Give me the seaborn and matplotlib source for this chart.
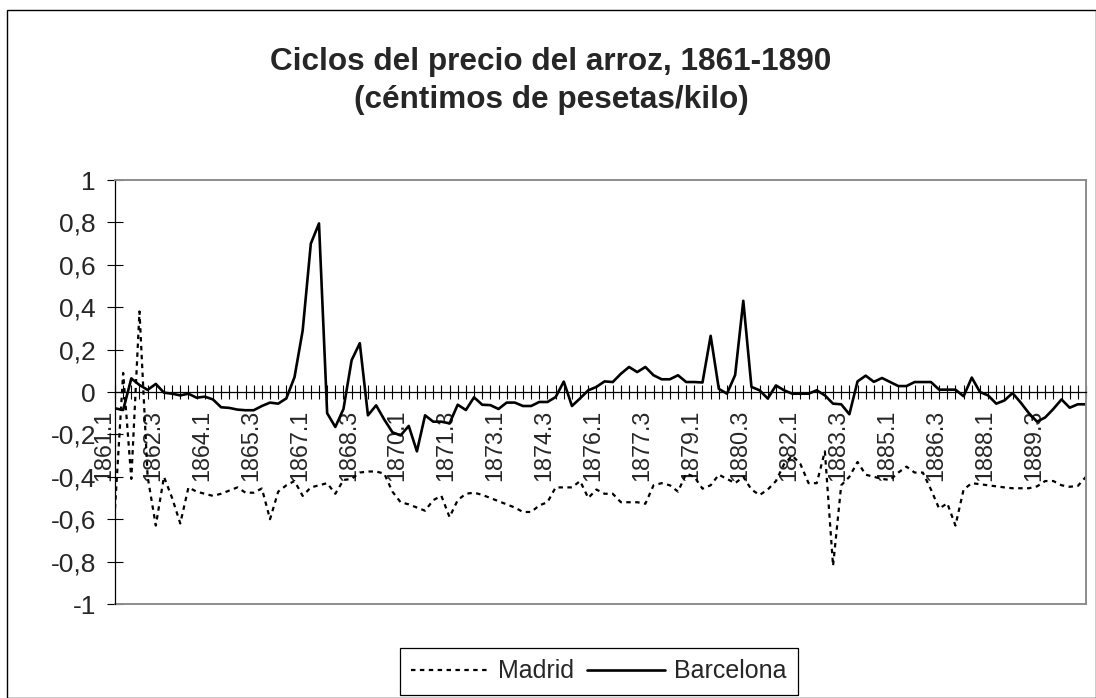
import numpy as np
import pandas as pd
import matplotlib
matplotlib.use("Agg")
import matplotlib.pyplot as plt
import seaborn as sns
from matplotlib.patches import Rectangle

# ======================
# 数据 (trimestres 1861.1 - 1890.4)
# ======================
quarters = [f"{y}.{q}" for y in range(1861, 1891) for q in range(1, 5)]

madrid = [
    -0.55, 0.09, -0.41, 0.38, -0.40, -0.63, -0.40, -0.50, -0.62, -0.45,
    -0.47, -0.48, -0.49, -0.48, -0.465, -0.45, -0.475, -0.475, -0.455, -0.60,
    -0.47, -0.44, -0.42, -0.49, -0.45, -0.44, -0.43, -0.48, -0.415, -0.41,
    -0.38, -0.375, -0.375, -0.385, -0.47, -0.52, -0.53, -0.545, -0.56, -0.51,
    -0.49, -0.59, -0.51, -0.48, -0.475, -0.485, -0.50, -0.515, -0.53, -0.545,
    -0.566, -0.566, -0.535, -0.52, -0.45, -0.45, -0.45, -0.42, -0.50, -0.46,
    -0.48, -0.48, -0.52, -0.52, -0.52, -0.527, -0.44, -0.43, -0.44, -0.47,
    -0.385, -0.40, -0.456, -0.44, -0.39, -0.41, -0.43, -0.40, -0.46, -0.486,
    -0.46, -0.42, -0.34, -0.30, -0.34, -0.43, -0.43, -0.28, -0.82, -0.44,
    -0.40, -0.33, -0.39, -0.40, -0.41, -0.415, -0.38, -0.352, -0.38, -0.38,
    -0.46, -0.55, -0.525, -0.63, -0.46, -0.43, -0.435, -0.44, -0.445, -0.45,
    -0.454, -0.454, -0.454, -0.445, -0.42, -0.42, -0.44, -0.447, -0.443, -0.40,
]

barcelona = [
    -0.077, -0.085, 0.064, 0.033, 0.010, 0.038, -0.003, -0.008, -0.016, -0.008,
    -0.027, -0.022, -0.035, -0.072, -0.075, -0.083, -0.086, -0.086, -0.066, -0.050,
    -0.055, -0.030, 0.070, 0.290, 0.700, 0.795, -0.100, -0.165, -0.080, 0.150,
    0.230, -0.110, -0.063, -0.130, -0.190, -0.205, -0.160, -0.280, -0.110, -0.140,
    -0.140, -0.148, -0.060, -0.085, -0.025, -0.060, -0.062, -0.080, -0.050, -0.050,
    -0.066, -0.066, -0.047, -0.047, -0.024, 0.049, -0.066, -0.030, 0.008, 0.024,
    0.050, 0.047, 0.086, 0.118, 0.094, 0.118, 0.079, 0.060, 0.060, 0.079,
    0.047, 0.047, 0.045, 0.265, 0.015, -0.008, 0.080, 0.430, 0.024, 0.008,
    -0.031, 0.031, 0.008, -0.008, -0.008, -0.008, 0.008, -0.016, -0.055, -0.058,
    -0.105, 0.050, 0.077, 0.048, 0.066, 0.047, 0.028, 0.028, 0.047, 0.047,
    0.047, 0.011, 0.011, 0.011, -0.020, 0.068, 0.000, -0.016, -0.055, -0.040,
    -0.005, -0.050, -0.100, -0.140, -0.120, -0.080, -0.035, -0.074, -0.058, -0.058,
]

y_ticks = [-1, -0.8, -0.6, -0.4, -0.2, 0, 0.2, 0.4, 0.6, 0.8, 1]
y_labels = ["-1", "-0,8", "-0,6", "-0,4", "-0,2", "0", "0,2", "0,4", "0,6", "0,8", "1"]
label_step = 6

df = pd.DataFrame({
    "t": np.arange(len(quarters)),
    "Madrid": madrid,
    "Barcelona": barcelona,
})

# ======================
# 绘图
# ======================
sns.set_style("white")
plt.rcParams["font.family"] = ["Liberation Sans", "DejaVu Sans"]

W, H = 1096, 698
fig = plt.figure(figsize=(W / 100, H / 100), dpi=100)
ax = fig.add_axes([115 / W, 1 - 604 / H, 971 / W, 424 / H])

sns.lineplot(data=df, x="t", y="Madrid", ax=ax, color="black", linewidth=1.6,
             linestyle=(0, (2.0, 2.0)), label="Madrid")
sns.lineplot(data=df, x="t", y="Barcelona", ax=ax, color="black", linewidth=1.9,
             label="Barcelona")

ax.set_xlim(0, len(quarters) - 1)
ax.set_ylim(-1, 1)
ax.set_xlabel("")
ax.set_ylabel("")

# bordes (antes de las marcas: set_position reinicia los ticks)
ax.spines["bottom"].set_position(("data", 0))
ax.spines["bottom"].set_color("black")
ax.spines["bottom"].set_linewidth(0.9)
ax.spines["left"].set_color("black")
ax.spines["left"].set_linewidth(0.9)
for s in ["top", "right"]:
    ax.spines[s].set_color("#8c8c8c")
    ax.spines[s].set_linewidth(1.4)
ax.plot([0, 1], [0, 0], transform=ax.transAxes, color="#8c8c8c", lw=1.4, clip_on=False)

# eje x en y=0, marcas en cada trimestre
ax.set_xticks(df["t"])
ax.set_xticklabels([q if i % label_step == 0 else "" for i, q in enumerate(quarters)])
ax.tick_params(axis="x", direction="inout", length=9.5, width=0.8, color="black",
               labelsize=16.8, pad=8, bottom=True)
plt.setp(ax.get_xticklabels(), rotation=90, rotation_mode="anchor",
         ha="right", va="bottom")

ax.set_yticks(y_ticks)
ax.set_yticklabels(y_labels)
ax.tick_params(axis="y", direction="inout", length=11.5, width=0.8, color="black",
               labelsize=19, pad=8, left=True)

# título
fig.text(551 / W, 1 - 81 / H, "Ciclos del precio del arroz, 1861-1890\n(céntimos de pesetas/kilo)",
         ha="center", va="center", fontsize=22.7, fontweight="bold", linespacing=1.38)

# leyenda
handles, labels = ax.get_legend_handles_labels()
ax.get_legend().remove()
fig.legend(handles, labels, loc="center", bbox_to_anchor=(599 / W, 1 - 671.5 / H),
           ncol=2, fontsize=18, frameon=True, fancybox=False, edgecolor="black",
           handlelength=3.1, handletextpad=0.4, columnspacing=0.5, borderpad=0.45,
           framealpha=1)
fig.legends[0].get_frame().set_linewidth(0.9)

# marco exterior
fig.add_artist(Rectangle((7 / W, 0.5 / H), (W - 7.5) / W, (H - 10.5) / H,
                         transform=fig.transFigure, fill=False, edgecolor="black", lw=1))

fig.savefig("out.png", dpi=100)
